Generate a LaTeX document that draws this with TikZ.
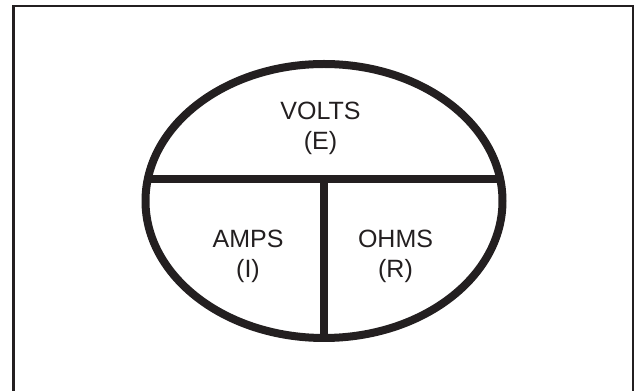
\documentclass[tikz,border=0pt]{standalone}
\usepackage{fontspec}
\setmainfont{Liberation Sans}
\definecolor{ink}{HTML}{231F20}
\begin{document}
\begin{tikzpicture}[x=0.75pt,y=-0.75pt,
  frame/.style={draw=ink,line width=1.9pt},
  heavy/.style={draw=ink,line width=6pt},
  lbl/.style={inner sep=0pt,anchor=base,text=ink,font=\fontsize{18.75pt}{22.5pt}\selectfont}]
\useasboundingbox (0,0) rectangle (640,391);
\draw[frame] (13.5,400) -- (13.5,6) -- (633,6) -- (633,400);
\coordinate (c) at (324,201);
\coordinate (hl) at (147.9,179.5);
\coordinate (hr) at (500.5,179.5);
\coordinate (vt) at (324,179.5);
\coordinate (vb) at (324,338);
\draw[heavy] (c) ellipse [x radius=178.5, y radius=137];
\draw[heavy] (hl) -- (hr);
\draw[heavy] (vt) -- (vb);
\node[lbl] (volts) at (320.5,120) {\begin{tabular}[t]{@{}c@{}}VOLTS\\(E)\end{tabular}};
\node[lbl] (amps) at (248,248) {\begin{tabular}[t]{@{}c@{}}AMPS\\(I)\end{tabular}};
\node[lbl] (ohms) at (395.5,248) {\begin{tabular}[t]{@{}c@{}}OHMS\\(R)\end{tabular}};
\end{tikzpicture}
\end{document}
